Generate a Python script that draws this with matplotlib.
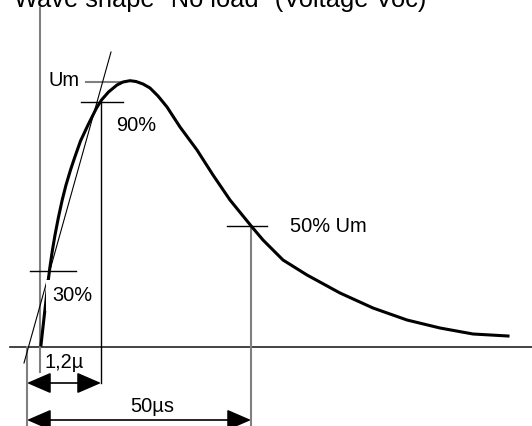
import matplotlib.pyplot as plt
from matplotlib.patches import FancyArrowPatch

plt.rcParams['font.family'] = ['Liberation Sans', 'DejaVu Sans']

# diagram is drawn in picture units (x to the right, y downwards)
title = 'Wave shape "No load" (Voltage Voc)'

curve_x = [41, 44, 47.7, 49.8, 52.3, 55, 58.3, 62.2, 66, 70.5, 74.5, 80.5, 88, 96.5, 101.5,
           108.5, 117, 123, 130, 136, 143, 150, 158, 167, 180, 197, 213, 230, 252, 263, 283,
           307, 340, 373, 407, 440, 473, 508]
curve_y = [345, 318, 285, 268, 251, 235, 218, 200, 185, 170, 158, 141, 125, 108, 100,
           92, 85, 82, 80.7, 81.5, 84, 88, 96, 107, 127, 150, 175, 200, 227, 240, 260,
           275, 293, 308, 320, 328, 334, 336]

tangent_x = [24, 111]
tangent_y = [363, 52]

baseline_y = 347
origin_x = 40
level_um, level_90, level_30, level_50 = 82, 102, 271, 226
t_front, t_half, t_left = 101, 251, 27

labels = ['Um', '90%', '30%', '1,2µ', '50µs', '50% Um']
label_x = [48, 116, 52, 45, 130, 290]
label_y = [86, 131, 301, 368, 412, 232]

fig = plt.figure(figsize=(5.32, 4.26), dpi=100)
ax = fig.add_axes([0, 0, 1, 1])
ax.set_xlim(0, 532)
ax.set_ylim(426, 0)
ax.axis('off')

gray = '#808080'
ax.text(14, 7, title, fontsize=18.3, ha='left', va='baseline')

# axes
ax.plot([10, 532], [baseline_y, baseline_y], color='#222222', lw=1.2)
ax.plot([origin_x, origin_x], [8, 372], color=gray, lw=1.5)

# level marks
ax.plot([86, 120], [level_um, level_um], color=gray, lw=1.5)
ax.plot([81, 123], [level_90, level_90], color='black', lw=1.0)
ax.plot([30, 76], [level_30, level_30], color='black', lw=1.0)
ax.plot([227, 267], [level_50, level_50], color='black', lw=1.0)

# time marks
ax.plot([t_front, t_front], [level_90, 383], color='black', lw=1.0)
ax.plot([t_half, t_half], [level_50, 426], color=gray, lw=1.5)
ax.plot([t_left, t_left], [baseline_y, 426], color=gray, lw=1.5)

# wave and tangent
ax.plot(tangent_x, tangent_y, color='black', lw=0.8)
ax.plot(curve_x, curve_y, color='black', lw=2.2, solid_joinstyle='round')

for lab, x, y in zip(labels, label_x, label_y):
    box = None
    if lab in ('90%', '30%'):
        box = dict(facecolor='white', edgecolor='none', pad=4)
    ax.text(x, y, lab, fontsize=14.4, ha='left', va='baseline', bbox=box, zorder=5)

for y, x1 in [(383, t_front), (420, t_half)]:
    arr = FancyArrowPatch((t_left, y), (x1, y), arrowstyle='<|-|>,head_length=15,head_width=6.5',
                          mutation_scale=1, shrinkA=0, shrinkB=0, color='black', lw=1.2)
    ax.add_patch(arr)

fig.savefig('out.png', dpi=100)
